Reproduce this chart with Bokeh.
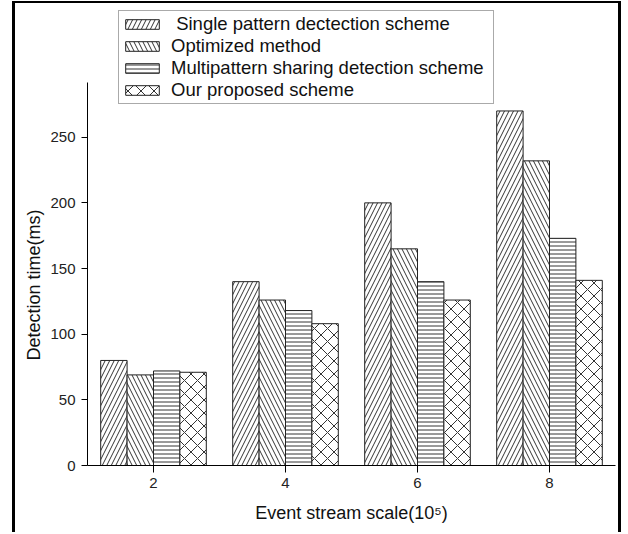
from bokeh.plotting import figure
from bokeh.models import (ColumnDataSource, Legend, LegendItem,
                          FixedTicker, Range1d, Title)
from bokeh.embed import file_html
from bokeh.resources import INLINE
from bokeh.transform import dodge

# ---- data ----
scales = [2, 4, 6, 8]
single = [80, 140, 200, 270]
optimized = [69, 126, 165, 232]
multipattern = [72, 118, 140, 173]
proposed = [71, 108, 126, 141]
series_names = [" Single pattern dectection scheme", "Optimized method",
                "Multipattern sharing detection scheme", "Our proposed scheme"]
y_ticks = [0, 50, 100, 150, 200, 250]
y_axis_end = 291.6
x_label = "Event stream scale(10\u2075)"
y_label = "Detection time(ms)"

source = ColumnDataSource(dict(x=scales, s1=single, s2=optimized,
                               s3=multipattern, s4=proposed))

FONT = "Liberation Sans"

# canvas is offset by the CSS border (15 px left, 3 px top)
p = figure(width=609, height=531, output_backend="svg", toolbar_location=None,
           x_range=Range1d(1, 9), y_range=Range1d(0, 346.5),
           min_border_left=72, min_border_right=9, min_border_top=7,
           min_border_bottom=69,
           styles={"border-left": "3px solid black",
                   "border-top": "2px solid black",
                   "border-right": "3px solid black",
                   "margin-left": "12px", "margin-top": "1px"})
p.background_fill_color = "white"
p.border_fill_color = "white"
p.outline_line_color = None
p.xgrid.visible = False
p.ygrid.visible = False

patterns = ["/", "\\", "-", "x"]
hscales = [9, 9, 4, 13]
offsets = [-0.6, -0.2, 0.2, 0.6]
cols = ["s1", "s2", "s3", "s4"]

items = []
for col, off, pat, hs, name in zip(cols, offsets, patterns, hscales, series_names):
    r = p.vbar(x=dodge("x", off, range=p.x_range), top=col, width=0.4,
               source=source, fill_color="white", line_color="#222222",
               line_width=1, hatch_pattern=pat, hatch_scale=hs,
               hatch_weight=1, hatch_color="#333333")
    items.append(LegendItem(label=name, renderers=[r]))

legend = Legend(items=items, location=(31, 361), orientation="vertical",
                border_line_color="#555555", border_line_width=1,
                background_fill_color="white", background_fill_alpha=1,
                padding=2, spacing=0, margin=0, glyph_width=42, glyph_height=12,
                label_standoff=8, label_height=21, label_width=320,
                label_text_font=FONT, label_text_font_size="18.5px",
                label_text_color="#111111")
p.add_layout(legend, "center")

# axes
p.xaxis.ticker = FixedTicker(ticks=scales)
p.yaxis.ticker = FixedTicker(ticks=y_ticks)
p.yaxis.bounds = (0, y_axis_end)
for ax in (p.xaxis[0], p.yaxis[0]):
    ax.axis_line_color = "black"
    ax.axis_line_width = 1
    ax.major_tick_line_color = "black"
    ax.major_tick_in = 0
    ax.minor_tick_line_color = None
    ax.major_label_text_font = FONT
    ax.major_label_text_font_size = "15px"
    ax.major_label_text_color = "#222222"
    ax.axis_label_text_font = FONT
    ax.axis_label_text_font_size = "18px"
    ax.axis_label_text_font_style = "normal"
    ax.axis_label_text_color = "#111111"
p.xaxis.major_tick_out = 7
p.yaxis.major_tick_out = 6
p.xaxis.major_label_standoff = 5
p.yaxis.major_label_standoff = 6
p.xaxis.axis_label = x_label
p.xaxis.axis_label_standoff = 12

# y-axis title placed along the drawn part of the axis
ytitle = Title(text=y_label, align="left", offset=105, vertical_align="top",
               text_font=FONT, text_font_size="18px", text_font_style="normal",
               text_color="#111111", standoff=4)
p.add_layout(ytitle, "left")

open("out.html", "w").write(file_html(p, INLINE))
